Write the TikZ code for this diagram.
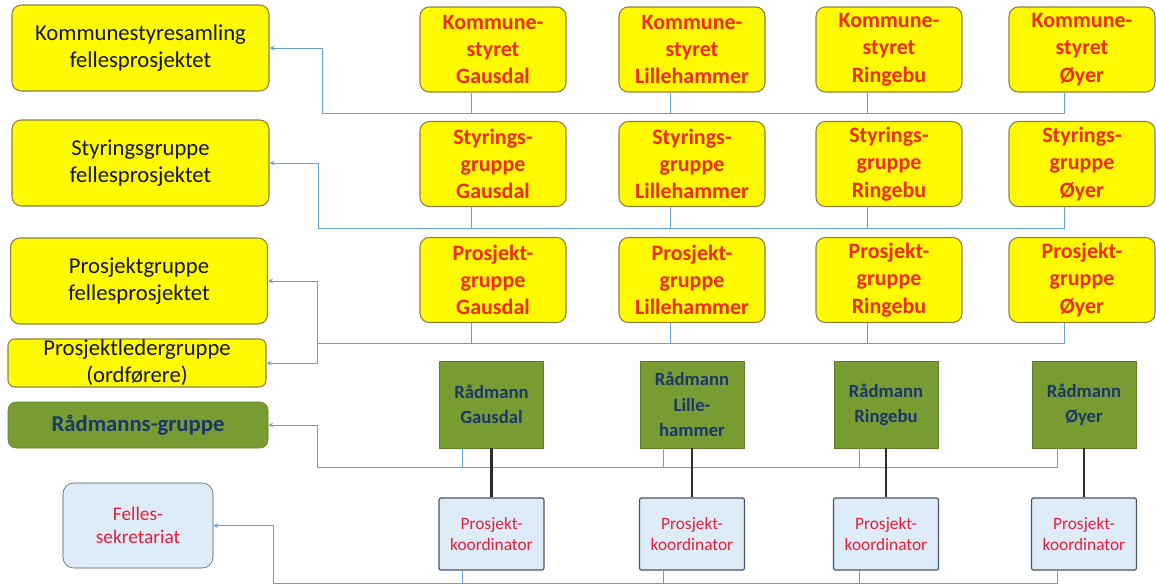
\documentclass[tikz,border=0pt]{standalone}
\usepackage{fontspec}
\setmainfont{Carlito}

\begin{document}
\begin{tikzpicture}[x=0.75pt,y=0.75pt,yscale=-1,xscale=1,
  yellowbox/.style={draw={rgb, 255:red, 140; green, 130; blue, 70 },line width=0.8pt,fill={rgb, 255:red, 255; green, 250; blue, 0 },rounded corners=7pt,inner sep=0pt,align=center},
  leftbox/.style={yellowbox,minimum width=192.75pt,minimum height=64.5pt,text={rgb, 255:red, 20; green, 20; blue, 45 },font=\fontsize{17}{20}\selectfont},
  townbox/.style={yellowbox,minimum width=109.5pt,minimum height=63.75pt,text={rgb, 255:red, 238; green, 45; blue, 25 },font=\fontsize{16.5}{20.5}\selectfont\bfseries},
  greenbox/.style={draw={rgb, 255:red, 95; green, 125; blue, 40 },fill={rgb, 255:red, 120; green, 155; blue, 50 },inner sep=0pt,align=center,text={rgb, 255:red, 25; green, 55; blue, 110 }},
  bluebox/.style={draw={rgb, 255:red, 70; green, 85; blue, 105 },fill={rgb, 255:red, 222; green, 236; blue, 248 },inner sep=0pt,align=center,text={rgb, 255:red, 230; green, 30; blue, 60 }},
  link/.style={draw={rgb, 255:red, 100; green, 160; blue, 215 },line width=0.7pt},
  feed/.style={link,->,>=stealth},
  chief/.style={draw={rgb, 255:red, 45; green, 45; blue, 45 },line width=1.6pt}]
%set diagram size
\useasboundingbox (0,0) rectangle (1156,586);

%Shape: Rounded Rect left column
\node[leftbox] (lK) at (140.5,48) {Kommunestyresamling\\fellesprosjektet};
\node[leftbox] (lS) at (140.5,163) {Styringsgruppe\\fellesprosjektet};
\node[leftbox] (lP) at (139,281) {Prosjektgruppe\\fellesprosjektet};
\node[leftbox,minimum width=193.5pt,minimum height=36pt,rounded corners=5pt] (lL) at (137,363) {Prosjektledergruppe\\(ordførere)};
\node[greenbox,rounded corners=6pt,minimum width=195pt,minimum height=34.5pt,font=\fontsize{17}{20}\selectfont\bfseries] (lR) at (138,425) {Rådmanns-gruppe};
\node[bluebox,rounded corners=8pt,minimum width=112.5pt,minimum height=63.75pt,font=\fontsize{14.5}{17.5}\selectfont] (lF) at (138,525.5) {Felles-\\sekretariat};

%Shape: Rounded Rect kommunestyret
\node[townbox] (kG) at (493,49.5) {Kommune-\\styret\\Gausdal};
\node[townbox] (kL) at (692,49.5) {Kommune-\\styret\\Lillehammer};
\node[townbox] (kR) at (889,49.5) {Kommune-\\styret\\Ringebu};
\node[townbox] (kO) at (1082,49.5) {Kommune-\\styret\\Øyer};
%Shape: Rounded Rect styringsgruppe
\node[townbox] (sG) at (493,164) {Styrings-\\gruppe\\Gausdal};
\node[townbox] (sL) at (692,164) {Styrings-\\gruppe\\Lillehammer};
\node[townbox] (sR) at (889,164) {Styrings-\\gruppe\\Ringebu};
\node[townbox] (sO) at (1082,164) {Styrings-\\gruppe\\Øyer};
%Shape: Rounded Rect prosjektgruppe
\node[townbox] (pG) at (493,280) {Prosjekt-\\gruppe\\Gausdal};
\node[townbox] (pL) at (692,280) {Prosjekt-\\gruppe\\Lillehammer};
\node[townbox] (pR) at (889,280) {Prosjekt-\\gruppe\\Ringebu};
\node[townbox] (pO) at (1082,280) {Prosjekt-\\gruppe\\Øyer};
%Shape: Rectangle raadmann
\node[greenbox,minimum width=78pt,minimum height=65.25pt,font=\fontsize{14}{19}\selectfont\bfseries] (rG) at (491.5,404.5) {Rådmann\\Gausdal};
\node[greenbox,minimum width=78pt,minimum height=65.25pt,font=\fontsize{14}{19}\selectfont\bfseries] (rL) at (692,404.5) {Rådmann\\Lille-\\hammer};
\node[greenbox,minimum width=78pt,minimum height=65.25pt,font=\fontsize{14}{19}\selectfont\bfseries] (rR) at (886,404.5) {Rådmann\\Ringebu};
\node[greenbox,minimum width=78pt,minimum height=65.25pt,font=\fontsize{14}{19}\selectfont\bfseries] (rO) at (1084,404.5) {Rådmann\\Øyer};
%Shape: Rectangle koordinator
\node[bluebox,rounded corners=1.5pt,line width=0.9pt,minimum width=78.75pt,minimum height=54pt,font=\fontsize{13}{16}\selectfont] (cG) at (491.5,534) {Prosjekt-\\koordinator};
\node[bluebox,rounded corners=1.5pt,line width=0.9pt,minimum width=78.75pt,minimum height=54pt,font=\fontsize{13}{16}\selectfont] (cL) at (692,534) {Prosjekt-\\koordinator};
\node[bluebox,rounded corners=1.5pt,line width=0.9pt,minimum width=78.75pt,minimum height=54pt,font=\fontsize{13}{16}\selectfont] (cR) at (886,534) {Prosjekt-\\koordinator};
\node[bluebox,rounded corners=1.5pt,line width=0.9pt,minimum width=78.75pt,minimum height=54pt,font=\fontsize{13}{16}\selectfont] (cO) at (1084,534) {Prosjekt-\\koordinator};

%bus corners
\coordinate (kbus) at (322,113);
\coordinate (sbus) at (318,228);
\coordinate (pbus) at (317,343);
\coordinate (rbus) at (317,467);
\coordinate (cbus) at (273,583);

%Straight Lines kommunestyret
\draw[link] ([xshift=-16.5pt]kG.south) |- (kbus);
\draw[link] ([xshift=-16.5pt]kL.south) |- (kbus);
\draw[link] ([xshift=-16.5pt]kR.south) |- (kbus);
\draw[link] ([xshift=-13pt]kO.south) |- (kbus);
\draw[feed] (kbus) |- (lK.east);
%Straight Lines styringsgruppe
\draw[link] ([xshift=-16.5pt]sG.south) |- (sbus);
\draw[link] ([xshift=-16.5pt]sL.south) |- (sbus);
\draw[link] ([xshift=-16.5pt]sR.south) |- (sbus);
\draw[link] ([xshift=-13pt]sO.south) |- (sbus);
\draw[feed] (sbus) |- (lS.east);
%Straight Lines prosjektgruppe
\draw[link] ([xshift=-16.5pt]pG.south) |- (pbus);
\draw[link] ([xshift=-16.5pt]pL.south) |- (pbus);
\draw[link] ([xshift=-16.5pt]pR.south) |- (pbus);
\draw[link] ([xshift=-13pt]pO.south) |- (pbus);
\draw[feed] (pbus) |- (lP.east);
\draw[feed] (pbus) |- (lL.east);
%Straight Lines raadmann
\draw[link] ([xshift=-21.75pt]rG.south) |- (rbus);
\draw[link] ([xshift=-21.75pt]rL.south) |- (rbus);
\draw[link] ([xshift=-20pt]rR.south) |- (rbus);
\draw[link] ([xshift=-20pt]rO.south) |- (rbus);
\draw[feed] (rbus) |- (lR.east);
%Straight Lines koordinator
\draw[link] ([xshift=-21.75pt]cG.south) |- (cbus);
\draw[link] ([xshift=-21.75pt]cL.south) |- (cbus);
\draw[link] ([xshift=-20pt]cR.south) |- (cbus);
\draw[link] ([xshift=-20pt]cO.south) |- (cbus);
\draw[feed] (cbus) |- (lF.east);
%Straight Lines raadmann to koordinator
\draw[chief] (rG) -- (cG);
\draw[chief] (rL) -- (cL);
\draw[chief] (rR) -- (cR);
\draw[chief] (rO) -- (cO);

\end{tikzpicture}
\end{document}
